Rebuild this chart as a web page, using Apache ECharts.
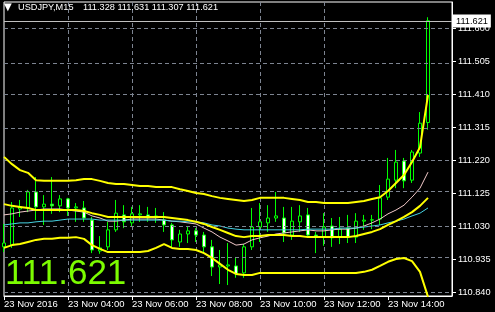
<!DOCTYPE html>
<html><head><meta charset="utf-8">
<script src="https://cdn.jsdelivr.net/npm/echarts@6/dist/echarts.min.js"></script>
<style>html,body{margin:0;padding:0;background:#000}#c{width:495px;height:312px}</style>
</head><body><div id="c"></div>
<script>
const symbolName = 'USDJPY,M15';
const opens = [110.970,110.975,111.079,111.082,111.128,111.085,111.093,111.088,111.108,111.082,
 111.082,111.047,110.958,110.970,111.019,111.062,111.039,111.062,111.062,111.059,
 111.047,111.033,110.984,111.007,111.016,111.004,110.970,110.912,110.915,110.915,
 110.895,110.970,111.027,111.039,111.053,111.053,111.004,111.042,111.062,111.004,
 110.998,111.030,110.998,111.024,110.998,111.044,111.047,111.050,111.113,111.162,
 111.217,111.162,111.240,111.328];
const closes = [110.981,111.082,111.085,111.128,111.085,111.093,111.088,111.108,111.082,111.085,
 111.053,110.961,110.967,111.019,111.067,111.042,111.065,111.065,111.053,111.056,
 111.033,110.990,111.007,111.016,111.004,110.970,110.912,110.918,110.918,110.892,
 110.970,111.027,111.042,111.053,111.059,111.010,111.044,111.059,111.004,111.001,
 111.027,110.996,111.021,110.998,111.044,111.047,111.048,111.111,111.165,111.214,
 111.160,111.243,111.326,111.621];
const lows = [110.955,110.967,111.056,111.070,111.047,111.033,111.065,111.070,111.059,111.042,
 111.042,110.952,110.950,110.961,111.013,111.024,111.027,111.042,111.042,111.039,
 111.013,110.967,110.970,110.981,110.984,110.955,110.886,110.863,110.860,110.881,
 110.881,110.961,110.984,111.013,111.042,110.984,110.990,111.013,110.996,110.952,
 110.973,110.970,110.978,110.981,110.981,111.019,111.021,111.033,111.105,111.139,
 111.139,111.154,111.229,111.307];
const highs = [111.036,111.099,111.105,111.134,111.171,111.119,111.171,111.119,111.111,111.096,
 111.102,111.056,111.001,111.042,111.105,111.090,111.085,111.090,111.085,111.082,
 111.070,111.039,111.019,111.030,111.024,111.013,110.990,110.961,110.981,110.941,
 110.978,111.082,111.096,111.090,111.128,111.085,111.085,111.090,111.082,111.013,
 111.067,111.053,111.056,111.062,111.067,111.062,111.062,111.148,111.226,111.249,
 111.226,111.249,111.358,111.631];
const bbUpper = [111.229,111.208,111.191,111.183,111.162,111.160,111.160,111.160,111.160,111.162,
 111.165,111.165,111.160,111.154,111.151,111.151,111.148,111.145,111.145,111.142,
 111.142,111.142,111.136,111.131,111.125,111.122,111.116,111.111,111.108,111.105,
 111.102,111.105,111.111,111.111,111.111,111.111,111.108,111.105,111.099,111.099,
 111.096,111.096,111.096,111.096,111.099,111.102,111.108,111.113,111.131,111.154,
 111.177,111.214,111.257,111.407];
const bbMiddle = [111.093,111.088,111.085,111.082,111.076,111.076,111.076,111.076,111.076,111.076,
 111.073,111.067,111.062,111.056,111.056,111.056,111.056,111.056,111.056,111.056,
 111.056,111.053,111.050,111.047,111.042,111.036,111.027,111.019,111.010,111.001,
 110.998,111.001,111.001,111.004,111.004,111.004,111.001,111.001,110.998,110.998,
 110.998,110.998,110.998,110.998,111.001,111.007,111.013,111.021,111.033,111.044,
 111.056,111.070,111.088,111.111];
const bbLower = [110.967,110.975,110.978,110.984,110.990,110.993,110.993,110.996,110.996,110.998,
 110.993,110.975,110.964,110.955,110.955,110.955,110.955,110.955,110.958,110.967,
 110.978,110.967,110.964,110.964,110.961,110.952,110.938,110.921,110.904,110.892,
 110.889,110.889,110.895,110.895,110.895,110.895,110.895,110.895,110.895,110.895,
 110.895,110.895,110.895,110.895,110.895,110.898,110.904,110.915,110.927,110.935,
 110.938,110.929,110.898,110.826];
const maPink = [111.062,111.065,111.070,111.073,111.076,111.079,111.079,111.079,111.076,111.073,
 111.070,111.059,111.053,111.044,111.044,111.047,111.050,111.050,111.050,111.050,
 111.047,111.044,111.042,111.039,111.036,111.024,111.013,110.998,110.987,110.975,
 110.978,110.990,110.996,111.001,111.007,111.010,111.013,111.016,111.019,111.016,
 111.016,111.019,111.021,111.021,111.024,111.030,111.039,111.050,111.065,111.076,
 111.090,111.113,111.139,111.185];
const maCyan = [111.033,111.036,111.039,111.039,111.042,111.044,111.044,111.047,111.050,111.050,
 111.050,111.050,111.047,111.047,111.047,111.047,111.047,111.047,111.047,111.047,
 111.047,111.044,111.044,111.042,111.042,111.039,111.033,111.030,111.024,111.021,
 111.019,111.019,111.019,111.019,111.019,111.019,111.019,111.019,111.021,111.021,
 111.021,111.021,111.024,111.024,111.024,111.027,111.030,111.033,111.039,111.044,
 111.050,111.059,111.067,111.082];
const yTicks = [110.840,110.935,111.030,111.125,111.220,111.315,111.410,111.505,111.600];
const xTickIdx = [0,8,16,24,32,40,48];
const xTickLabels = ['23 Nov 2016','23 Nov 04:00','23 Nov 06:00','23 Nov 08:00','23 Nov 10:00','23 Nov 12:00','23 Nov 14:00'];

const FONT = '"Liberation Sans", Arial, sans-serif';
const last = closes.length - 1;
const candleData = opens.map((o, i) => [i, o, closes[i], lows[i], highs[i]]);
const toLine = arr => arr.map((v, i) => [i, v]);
const GRIDC = '#7d8491';

const chart = echarts.init(document.getElementById('c'), null, {renderer: 'canvas'});
chart.setOption({
  backgroundColor: '#000',
  animation: false,
  grid: {left: 4, right: 43, top: 2, bottom: 16, show: true, borderColor: '#fff', borderWidth: 1, backgroundColor: 'transparent'},
  xAxis: {
    type: 'value', min: 0, max: 56, interval: 4,
    axisLine: {show: true, onZero: false, lineStyle: {color: '#fff'}},
    axisTick: {show: true, customValues: xTickIdx, length: 4, lineStyle: {color: '#fff'}},
    axisLabel: {customValues: xTickIdx, color: '#fff', fontFamily: FONT, fontSize: 9.5, align: 'left', margin: 3,
      formatter: v => { const k = xTickIdx.indexOf(Math.round(v)); return k >= 0 ? xTickLabels[k] : ''; }},
    splitLine: {show: true, showMinLine: false, showMaxLine: false, lineStyle: {color: GRIDC, type: [4, 3], width: 1}}
  },
  yAxis: {
    type: 'value', position: 'right', min: 110.8285, max: 111.6749,
    axisLine: {show: true, onZero: false, lineStyle: {color: '#fff'}},
    axisTick: {show: true, customValues: yTicks, length: 4, lineStyle: {color: '#fff'}},
    axisLabel: {customValues: yTicks, color: '#fff', fontFamily: FONT, fontSize: 9.2, margin: 6, formatter: v => v.toFixed(3)},
    splitLine: {show: false}
  },
  graphic: [
    {type: 'text', left: 4, top: 2, z: 100, style: {text: '▼', fill: '#fff', font: '10px "DejaVu Sans", sans-serif'}},
    {type: 'text', left: 18, top: 3, z: 100, style: {text: symbolName, fill: '#fff', font: '9.2px ' + FONT}},
    {type: 'text', left: 83, top: 3, z: 100, style: {text: [opens[last], highs[last], lows[last], closes[last]].map(v => v.toFixed(3)).join(' '), fill: '#fff', font: '9.2px ' + FONT}},
    {type: 'text', left: 5, top: 257, z: 100, style: {text: closes[last].toFixed(3), fill: '#7cfc00', font: '35px ' + FONT}}
  ],
  series: [
    {type: 'line', data: [], silent: true, z: 1,
      markLine: {silent: true, symbol: 'none', animation: false, label: {show: false},
        lineStyle: {color: GRIDC, type: [4, 3], width: 1},
        data: yTicks.map(v => ({yAxis: v}))}},
    {type: 'candlestick', data: candleData, encode: {x: 0, y: [1, 2, 3, 4]}, barWidth: 4, z: 3,
      itemStyle: {color: '#000', color0: '#fff', borderColor: '#00ff00', borderColor0: '#00ff00', borderColorDoji: '#00ff00', borderWidth: 1}},
    {type: 'line', data: toLine(maPink), showSymbol: false, z: 4, lineStyle: {color: '#f2c9c9', width: 1}},
    {type: 'line', data: toLine(maCyan), showSymbol: false, z: 4, lineStyle: {color: '#45d2e2', width: 1}},
    {type: 'line', data: toLine(bbUpper), showSymbol: false, z: 5, lineStyle: {color: '#ffff00', width: 2}},
    {type: 'line', data: toLine(bbMiddle), showSymbol: false, z: 5, lineStyle: {color: '#ffff00', width: 2}},
    {type: 'line', data: toLine(bbLower), showSymbol: false, z: 5, lineStyle: {color: '#ffff00', width: 2}},
    {type: 'line', data: [], silent: true, z: 10, clip: false,
      markLine: {silent: true, symbol: 'none', animation: false,
        lineStyle: {color: '#c0c0c0', type: 'solid', width: 1},
        label: {show: true, position: 'end', distance: 1, formatter: () => closes[last].toFixed(3),
          color: '#000', backgroundColor: '#fff', padding: [2, 3, 2, 3], fontFamily: FONT, fontSize: 9.2},
        data: [{yAxis: closes[last]}]}}
  ]
});
</script>
</body></html>
